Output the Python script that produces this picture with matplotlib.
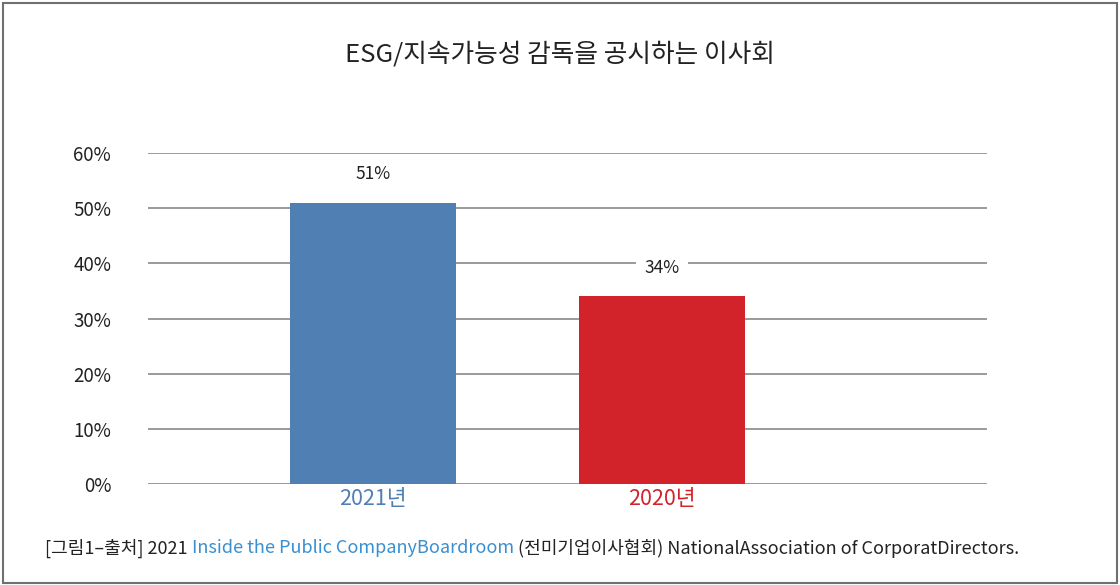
import matplotlib.pyplot as plt
from matplotlib.patches import Rectangle

plt.rcParams['font.family'] = ['Noto Sans CJK KR', 'DejaVu Sans']

# data
years = ['2021년', '2020년']
values = [51, 34]
bar_colors = ['#4f7fb3', '#d2232a']
yticks = [0, 10, 20, 30, 40, 50, 60]

fig = plt.figure(figsize=(11.2, 5.85), dpi=100)
ax = fig.add_axes([0.1321, 0.1726, 0.7491, 0.5658])

x = list(range(len(years)))
ax.bar(x, values, width=0.574, color=bar_colors, zorder=3)

for xi, v in zip(x, values):
    ax.text(xi, v + 5.2, f'{v}%', ha='center', va='center', fontsize=12.5, color='#222222',
            zorder=4, bbox=dict(facecolor='white', edgecolor='none', pad=6))

ax.set_xlim(-0.779, 2.125)
ax.set_ylim(0, 60)
ax.set_yticks(yticks)
ax.set_yticklabels([f'{t}%' for t in yticks], fontsize=13.5, color='#222222')
ax.tick_params(axis='y', length=0, pad=26.5)
ax.grid(axis='y', color='#9a9a9a', linewidth=1.4, zorder=0)
for s in ax.spines.values():
    s.set_visible(False)

ax.set_xticks(x)
ax.set_xticklabels(years, fontsize=15.5)
for lbl, c in zip(ax.get_xticklabels(), bar_colors):
    lbl.set_color(c)
ax.tick_params(axis='x', length=0, pad=3)

fig.text(0.5, 0.906, 'ESG/지속가능성 감독을 공시하는 이사회', ha='center', va='center',
         fontsize=18.5, color='#222222')

# caption with mixed colours
parts = [('[그림1–출처] 2021 ', '#222222'),
         ('Inside the Public CompanyBoardroom', '#3a8fd0'),
         (' (전미기업이사협회) NationalAssociation of CorporatDirectors.', '#222222')]
fig.canvas.draw()
r = fig.canvas.get_renderer()
xpos = 45 / 1120
for txt, c in parts:
    t = fig.text(xpos, 1 - 548 / 585, txt, ha='left', va='center', fontsize=13, color=c)
    bb = t.get_window_extent(renderer=r)
    xpos += bb.width / fig.bbox.width

fig.patches.append(Rectangle((0.003, 0.003), 0.994, 0.992, transform=fig.transFigure,
                             fill=False, edgecolor='#707070', linewidth=1.5))

fig.savefig('out.png', dpi=100)
